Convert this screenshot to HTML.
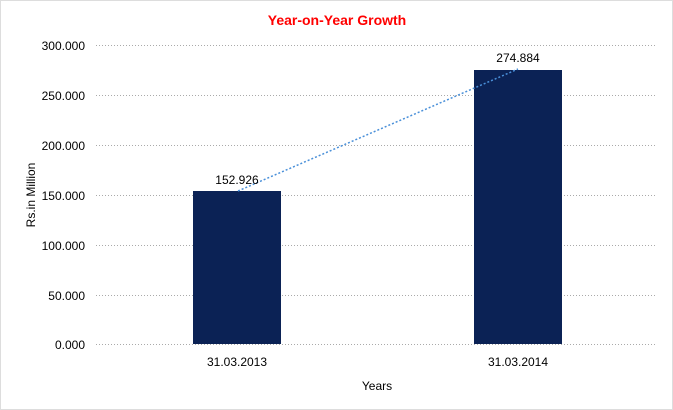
<!DOCTYPE html>
<html><head><style>
body{margin:0;background:#fff;}
svg{display:block;font-family:"Liberation Sans",Arial,sans-serif;}
</style></head><body>
<svg width="673" height="410" viewBox="0 0 673 410">
<rect x="0.5" y="0.5" width="672" height="409" fill="#fff" stroke="#bbb" stroke-dasharray="1,1"/>
<text x="337" y="25" text-anchor="middle" font-size="14" font-weight="bold" fill="#ff0000">Year-on-Year Growth</text>
<g stroke="#aaa" stroke-dasharray="1,2" stroke-width="1">
<line x1="96" y1="45.5" x2="657" y2="45.5"/>
<line x1="96" y1="95.5" x2="657" y2="95.5"/>
<line x1="96" y1="145.5" x2="657" y2="145.5"/>
<line x1="96" y1="195.5" x2="657" y2="195.5"/>
<line x1="96" y1="245.5" x2="657" y2="245.5"/>
<line x1="96" y1="295.5" x2="657" y2="295.5"/>
<line x1="96" y1="344.5" x2="657" y2="344.5"/>
</g>
<g font-size="12" fill="#000" text-anchor="end">
<text x="85" y="50">300.000</text>
<text x="85" y="100">250.000</text>
<text x="85" y="150">200.000</text>
<text x="85" y="200">150.000</text>
<text x="85" y="250">100.000</text>
<text x="85" y="300">50.000</text>
<text x="85" y="349">0.000</text>
</g>
<rect x="193" y="191" width="88" height="153" fill="#0b2255"/>
<rect x="474" y="70" width="88" height="274" fill="#0b2255"/>
<line x1="238" y1="191" x2="518" y2="69" stroke="#4a90d9" stroke-width="1.5" stroke-dasharray="2,2"/>
<g font-size="12" fill="#000" text-anchor="middle">
<text x="237" y="184">152.926</text>
<text x="518" y="62">274.884</text>
<text x="237" y="366">31.03.2013</text>
<text x="518" y="366">31.03.2014</text>
<text x="377" y="390">Years</text>
</g>
<text x="35" y="195" font-size="12" text-anchor="middle" transform="rotate(-90 35 195)">Rs.in Million</text>
</svg>
</body></html>
